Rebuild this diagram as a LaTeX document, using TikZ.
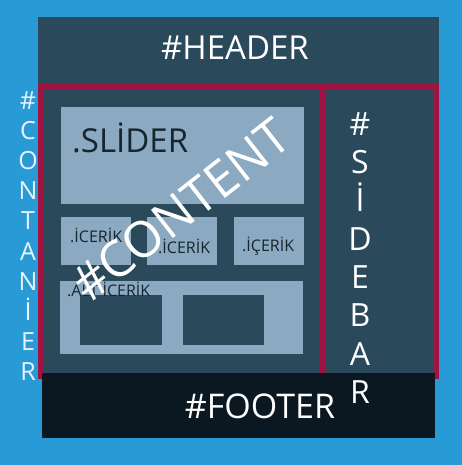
\documentclass[tikz,border=0pt]{standalone}
\usepackage{fontspec}
\setmainfont{Open Sans}
\definecolor{skyblue}{RGB}{40,155,214}
\definecolor{darkslate}{RGB}{42,74,91}
\definecolor{panelblue}{RGB}{139,169,193}
\definecolor{crimson}{RGB}{160,18,63}
\definecolor{footerdark}{RGB}{11,24,34}
\definecolor{inktext}{RGB}{23,37,46}
\definecolor{paletext}{RGB}{232,244,252}

\begin{document}
\begin{tikzpicture}[x=1pt,y=-1pt,
  box/.style={inner sep=0pt,outer sep=0pt,anchor=north west},
  panel/.style={box,fill=panelblue},
  hole/.style={box,fill=darkslate},
  frame/.style={box,draw=crimson,line width=6pt},
  bigtext/.style={text=white,inner sep=0pt},
  smalltext/.style={text=inktext,inner sep=0pt,anchor=base west,font=\fontsize{16}{16}\selectfont}]
\fill[skyblue] (0,0) rectangle (462,465);
\useasboundingbox (0,0) rectangle (462,465);
\node[hole,minimum width=401pt,minimum height=356pt] (page) at (38,17) {};
\node[frame,minimum width=281pt,minimum height=290pt] (content) at (41,86) {};
\node[frame,minimum width=114pt,minimum height=290pt] (sidebar) at (322,86) {};
\node[box,fill=footerdark,minimum width=393pt,minimum height=65pt] (footer) at (42,373) {};
\node[panel,minimum width=243pt,minimum height=97pt] (slider) at (61,107) {};
\node[panel,minimum width=70pt,minimum height=48pt] (icerik1) at (61,217) {};
\node[panel,minimum width=70pt,minimum height=48pt] (icerik2) at (147,217) {};
\node[panel,minimum width=70pt,minimum height=48pt] (icerik3) at (234,217) {};
\node[panel,minimum width=243pt,minimum height=73pt] (alticerik) at (60,281) {};
\node[hole,minimum width=82pt,minimum height=50pt] (alt1) at (80,295) {};
\node[hole,minimum width=81pt,minimum height=50pt] (alt2) at (183,295) {};
\node[bigtext,font=\fontsize{33}{33}\selectfont] (headertext) at (235,48) {\#HEADER};
\node[bigtext,font=\fontsize{34}{34}\selectfont] (footertext) at (260,406) {\#FOOTER};
\node[text=inktext,inner sep=0pt,anchor=base west,font=\fontsize{33}{33}\selectfont] (slidertext) at (72,153) {.SLİDER};
\node[smalltext] (icerik1text) at (70,242) {.İCERİK};
\node[smalltext] (icerik2text) at (158,253) {.İCERİK};
\node[smalltext] (icerik3text) at (242,251) {.İÇERİK};
\node[smalltext] (alttext) at (67,296) {.ALT İCERİK};
\node[bigtext,rotate=38,font=\fontsize{50}{50}\selectfont] (contenttext) at (181,210) {\#CONTENT};
\node[text=paletext,inner sep=0pt,align=center,font=\fontsize{25}{30.2}\selectfont] (containertext) at (28,236) {\#\\C\\O\\N\\T\\A\\N\\İ\\E\\R};
\node[bigtext,align=center,font=\fontsize{32}{38.3}\selectfont] (sidebartext) at (360,258) {\#\\S\\İ\\D\\E\\B\\A\\R};
\end{tikzpicture}
\end{document}
